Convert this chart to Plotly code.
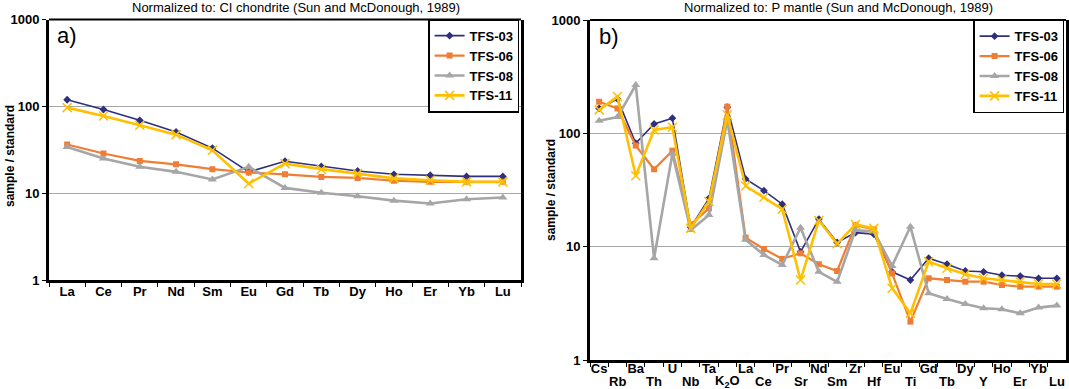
import plotly.graph_objects as go

W, H = 1069, 389

# ---------------- data ----------------
ree = ["La", "Ce", "Pr", "Nd", "Sm", "Eu", "Gd", "Tb", "Dy", "Ho", "Er", "Yb", "Lu"]
ree_tfs03 = [119, 92, 69, 50.7, 33, 17.6, 23.3, 20.3, 18, 16.5, 16.1, 15.6, 15.6]
ree_tfs06 = [36.3, 28.6, 23.5, 21.5, 18.9, 17.3, 16.5, 15.4, 15.0, 13.9, 13.5, 13.5, 13.5]
ree_tfs08 = [34.1, 25, 20.1, 17.6, 14.4, 20.1, 11.5, 10.1, 9.2, 8.2, 7.6, 8.5, 8.9]
ree_tfs11 = [96.6, 77.4, 60.5, 47.2, 31.2, 12.9, 21.9, 18.9, 16.8, 14.8, 14.1, 13.5, 13.5]

spider = ["Cs", "Rb", "Ba", "Th", "U", "Nb", "Ta", "K2O", "La", "Ce", "Pr", "Sr", "Nd",
          "Sm", "Zr", "Hf", "Eu", "Ti", "Gd", "Tb", "Dy", "Y", "Ho", "Er", "Yb", "Lu"]
spider_labels = ["Cs", "Rb", "Ba", "Th", "U", "Nb", "Ta", "K<sub>2</sub>O", "La", "Ce", "Pr", "Sr", "Nd",
                 "Sm", "Zr", "Hf", "Eu", "Ti", "Gd", "Tb", "Dy", "Y", "Ho", "Er", "Yb", "Lu"]
sp_tfs03 = [166, 201, 81.8, 121, 136, 14.8, 26.7, 170, 39.6, 31.2, 23.7, 9.0, 17.5,
            10.9, 13.3, 12.9, 6.0, 5.08, 7.9, 7.0, 6.1, 6.0, 5.6, 5.5, 5.26, 5.26]
sp_tfs06 = [190, 166, 78, 48.2, 70.3, 15.7, 21.8, 172, 12.0, 9.55, 7.8, 8.74, 7.0,
            6.1, 15.5, 14.2, 5.8, 2.18, 5.26, 5.08, 4.91, 4.91, 4.59, 4.44, 4.44, 4.44]
sp_tfs08 = [129, 139, 267, 7.9, 66, 14.0, 19.0, 131, 11.5, 8.45, 6.9, 14.7, 6.0,
            4.9, 14.0, 13.6, 6.76, 15.0, 3.88, 3.45, 3.12, 2.86, 2.80, 2.58, 2.90, 3.02]
sp_tfs11 = [161, 211, 42.3, 107, 113, 14.5, 25, 145, 34.3, 27.3, 21.4, 5.08, 17,
            10.6, 15.7, 14.5, 4.3, 2.58, 7.38, 6.45, 5.7, 5.26, 5.08, 4.91, 4.69, 4.69]

samples = ["TFS-03", "TFS-06", "TFS-08", "TFS-11"]
y_ticks = [1, 10, 100, 1000]
y_ticktext = ["1", "10", "100", "1000"]

# ---------------- styles ----------------
styles = {
    "TFS-03": dict(color="#2E2F7E", width=1.6, symbol="diamond", size=6, mline=0),
    "TFS-06": dict(color="#EF7D36", width=2.2, symbol="square", size=6, mline=0),
    "TFS-08": dict(color="#A6A6A6", width=2.6, symbol="triangle-up", size=8, mline=0),
    "TFS-11": dict(color="#FFC000", width=2.6, symbol="x-thin-open", size=9, mline=1.5),
}

FONT = "Liberation Sans, Arial, sans-serif"

def px_x(x):
    return x / W

def px_y(y):
    return 1 - y / H

fig = go.Figure()

left_series = [ree_tfs03, ree_tfs06, ree_tfs08, ree_tfs11]
right_series = [sp_tfs03, sp_tfs06, sp_tfs08, sp_tfs11]

for name, vals in zip(samples, left_series):
    s = styles[name]
    fig.add_trace(go.Scatter(
        x=ree, y=vals, name=name, mode="lines+markers", xaxis="x", yaxis="y",
        legend="legend",
        line=dict(color=s["color"], width=s["width"]),
        marker=dict(symbol=s["symbol"], size=s["size"], color=s["color"],
                    line=dict(color=s["color"], width=s["mline"])),
    ))

for name, vals in zip(samples, right_series):
    s = styles[name]
    fig.add_trace(go.Scatter(
        x=spider, y=vals, name=name, mode="lines+markers", xaxis="x2", yaxis="y2",
        legend="legend2",
        line=dict(color=s["color"], width=s["width"]),
        marker=dict(symbol=s["symbol"], size=s["size"], color=s["color"],
                    line=dict(color=s["color"], width=s["mline"])),
    ))

tickfont = dict(family=FONT, size=13, color="black", weight="bold")

L = dict(x0=49, x1=521, y0=19.5, y1=280)
R = dict(x0=590, x1=1066, y0=20, y1=360)

def xaxis_cfg(box, cats, ticktext, anchor, standoff):
    return dict(
        domain=[px_x(box["x0"]), px_x(box["x1"])],
        anchor=anchor, type="category",
        categoryorder="array", categoryarray=cats,
        range=[-0.5, len(cats) - 0.5],
        tickmode="array", tickvals=cats, ticktext=ticktext, tickangle=0,
        ticklabelstandoff=standoff,
        tickson="boundaries", ticks="outside", ticklen=4, tickwidth=1, tickcolor="black",
        showline=True, linecolor="black", linewidth=3, mirror=False,
        showgrid=False, zeroline=False, tickfont=tickfont, automargin=False,
    )

def yaxis_cfg(box, anchor):
    return dict(
        domain=[px_y(box["y1"]), px_y(box["y0"])],
        anchor=anchor, type="log", range=[0, 3],
        tickmode="array", tickvals=y_ticks, ticktext=y_ticktext,
        ticks="outside", ticklen=4, tickwidth=1, tickcolor="black",
        showline=True, linecolor="black", linewidth=3, mirror=True,
        showgrid=True, gridcolor="#A8A8A8", gridwidth=1,
        zeroline=False, tickfont=tickfont, automargin=False,
    )

upper = [lab if i % 2 == 0 else "" for i, lab in enumerate(spider_labels)]

legend_common = dict(
    yanchor="top", xanchor="right",
    bgcolor="white", bordercolor="black", borderwidth=1.2,
    font=dict(family=FONT, size=13, weight="bold"), itemwidth=30,
    tracegroupgap=0, itemclick=False,
)

fig.update_layout(
    width=W, height=H,
    margin=dict(l=0, r=0, t=0, b=0),
    paper_bgcolor="white", plot_bgcolor="white",
    font=dict(family=FONT, color="black"),
    xaxis=xaxis_cfg(L, ree, ree, "y", -3),
    yaxis=yaxis_cfg(L, "x"),
    xaxis2=xaxis_cfg(R, spider, upper, "y2", -6),
    yaxis2=yaxis_cfg(R, "x2"),
    legend=dict(x=px_x(L["x1"]) - 0.0015, y=px_y(L["y0"]), **legend_common),
    legend2=dict(x=px_x(R["x1"]) - 0.0015, y=px_y(R["y0"]), **legend_common),
    showlegend=True,
)

# thin top border of each plot frame
for xr, yr in (("x domain", "y domain"), ("x2 domain", "y2 domain")):
    fig.add_shape(type="line", xref=xr, yref=yr, x0=0, x1=1, y0=1, y1=1,
                  line=dict(color="black", width=2))

annos = []
# titles
annos.append(dict(text="Normalized to: CI chondrite (Sun and McDonough, 1989)",
                  x=px_x(296), y=px_y(8), xref="paper", yref="paper",
                  xanchor="center", yanchor="middle", showarrow=False,
                  font=dict(family=FONT, size=13)))
annos.append(dict(text="Normalized to: P mantle (Sun and McDonough, 1989)",
                  x=px_x(838), y=px_y(8), xref="paper", yref="paper",
                  xanchor="center", yanchor="middle", showarrow=False,
                  font=dict(family=FONT, size=13)))
# panel letters
annos.append(dict(text="a)", x=px_x(55), y=px_y(35), xref="paper", yref="paper",
                  xanchor="left", yanchor="middle", showarrow=False,
                  font=dict(family=FONT, size=22)))
annos.append(dict(text="b)", x=px_x(597), y=px_y(36), xref="paper", yref="paper",
                  xanchor="left", yanchor="middle", showarrow=False,
                  font=dict(family=FONT, size=22)))
# y-axis titles
annos.append(dict(text="sample / standard", x=px_x(10), y=px_y(156), xref="paper", yref="paper",
                  xanchor="center", yanchor="middle", textangle=-90, showarrow=False,
                  font=dict(family=FONT, size=12, weight="bold")))
annos.append(dict(text="sample / standard", x=px_x(551), y=px_y(190), xref="paper", yref="paper",
                  xanchor="center", yanchor="middle", textangle=-90, showarrow=False,
                  font=dict(family=FONT, size=12, weight="bold")))
# lower row of staggered labels in panel b
for i, (cat, lab) in enumerate(zip(spider, spider_labels)):
    if i % 2 == 1:
        annos.append(dict(text=lab, x=cat, y=px_y(381), xref="x2", yref="paper",
                          xanchor="center", yanchor="middle", showarrow=False,
                          font=tickfont))
fig.update_layout(annotations=annos)

fig.write_html(
    "out.html",
    config={"displayModeBar": False},
    post_script="document.body.style.margin='0';document.body.style.overflow='hidden';",
)
